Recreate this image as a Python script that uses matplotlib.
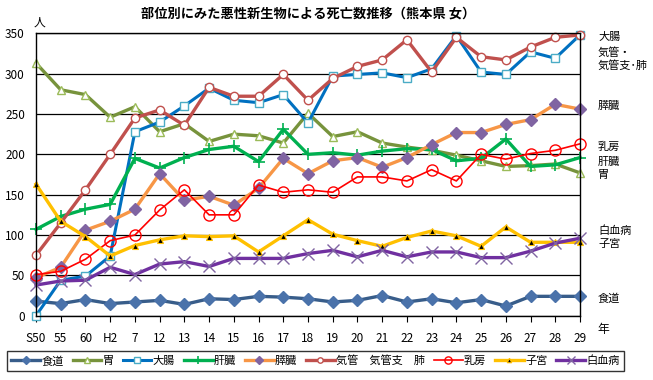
import matplotlib
matplotlib.use("Agg")
import matplotlib.pyplot as plt

plt.rcParams['font.family'] = ['Noto Sans CJK JP', 'DejaVu Sans']

categories = ['S50', '55', '60', 'H2', '7', '12', '13', '14', '15', '16', '17', '18',
              '19', '20', '21', '22', '23', '24', '25', '26', '27', '28', '29']

shokudo = [18, 15, 20, 15, 17, 19, 14, 21, 20, 24, 23, 21, 17, 19, 25, 17, 21, 16, 20, 12, 24, 24, 24]
i_stomach = [313, 280, 274, 246, 259, 228, 238, 216, 225, 223, 214, 251, 222, 228, 214, 209, 205, 199, 192, 185, 186, 188, 177]
daicho = [0, 44, 49, 74, 228, 240, 260, 282, 267, 264, 274, 239, 297, 299, 301, 295, 306, 347, 302, 299, 327, 319, 348]
kanzo = [107, 123, 132, 138, 195, 183, 196, 206, 210, 191, 231, 200, 202, 199, 204, 207, 206, 192, 195, 219, 185, 187, 196]
suizo = [47, 60, 106, 117, 132, 176, 143, 148, 137, 158, 195, 176, 192, 196, 184, 196, 212, 227, 227, 237, 243, 262, 256]
kikan = [75, 115, 156, 200, 245, 255, 236, 283, 272, 272, 299, 267, 294, 309, 317, 342, 302, 345, 321, 317, 333, 345, 348]
nyubo = [51, 55, 70, 93, 100, 131, 156, 125, 125, 162, 153, 156, 153, 172, 172, 167, 181, 167, 200, 194, 201, 205, 213]
shikyu = [163, 117, 98, 74, 87, 94, 99, 98, 99, 79, 99, 119, 101, 93, 86, 97, 105, 99, 86, 110, 91, 91, 91]
hakketsu = [38, 43, 44, 60, 51, 64, 67, 61, 71, 71, 71, 77, 81, 73, 81, 73, 79, 79, 72, 72, 80, 90, 96]

series_names = ['食道', '胃', '大腸', '肝臓', '膵臓', '気管　気管支　肺', '乳房', '子宮', '白血病']
series_values = [shokudo, i_stomach, daicho, kanzo, suizo, kikan, nyubo, shikyu, hakketsu]

styles = [
    dict(color='#385D8A', lw=2.4, marker='D', ms=6, mfc='#4A72AA', mec='#4A72AA'),
    dict(color='#77933C', lw=2.4, marker='^', ms=6, mfc='white', mec='#9BBB59', mew=1.0),
    dict(color='#0070C0', lw=2.2, marker='s', ms=6, mfc='white', mec='#4BACC6', mew=1.0),
    dict(color='#00B050', lw=2.4, marker='+', ms=9, mfc='#00B050', mec='#00B050', mew=1.2),
    dict(color='#F79646', lw=2.4, marker='D', ms=6.5, mfc='#8064A2', mec='#8064A2'),
    dict(color='#C0504D', lw=2.4, marker='o', ms=6, mfc='white', mec='#C0504D', mew=1.0),
    dict(color='#FF0000', lw=1.2, marker='o', ms=8, mfc='none', mec='#FF0000', mew=1.0),
    dict(color='#FFC000', lw=2.4, marker='^', ms=5, mfc='black', mec='#FFC000', mew=0.8),
    dict(color='#7030A0', lw=2.4, marker='x', ms=8, mfc='#8064A2', mec='#8064A2', mew=1.0),
]

W, H = 653, 380
fig = plt.figure(figsize=(W / 100, H / 100), dpi=100)
ax = fig.add_axes([36 / W, 1 - 315.7 / H, (580 - 36) / W, (315.7 - 33.3) / H])

x = list(range(len(categories)))
for name, vals, st in zip(series_names, series_values, styles):
    ax.plot(x, vals, label=name, clip_on=False, **st)

ax.set_xlim(0, len(categories) - 1)
ax.set_ylim(0, 350)
ax.set_yticks(range(0, 351, 50))
ax.set_xticks(x)
ax.set_xticklabels(categories)
ax.yaxis.grid(True, color='black', lw=0.9)
ax.set_axisbelow(True)
for s in ax.spines.values():
    s.set_color('black')
    s.set_linewidth(1.0)
ax.tick_params(axis='y', length=0, pad=8, labelsize=8.5)
ax.tick_params(axis='x', length=4, width=0.8, direction='out', pad=8, labelsize=8.5)

fig.text(308 / W, 1 - 14 / H, '部位別にみた悪性新生物による死亡数推移（熊本県 女）',
         ha='center', va='center', fontsize=9.5, fontweight='bold')
fig.text(39 / W, 1 - 22 / H, '人', ha='center', va='center', fontsize=8.5)
fig.text(603 / W, 1 - 329 / H, '年', ha='center', va='center', fontsize=8.5)

right_labels = [('大腸', 36.7), ('気管・', 52.3), ('気管支･肺', 65.5), ('膵臓', 106),
                ('乳房', 146.7), ('肝臓', 161.7), ('胃', 175), ('白血病', 231),
                ('子宮', 244.3), ('食道', 298.3)]
for txt, yy in right_labels:
    fig.text(598 / W, 1 - yy / H, txt, ha='left', va='center', fontsize=8)

leg = fig.legend(loc='center', bbox_to_anchor=(315.5 / W, 1 - 361 / H), ncol=9,
                 fontsize=8, frameon=True, fancybox=False, edgecolor='black',
                 handlelength=2.6, handletextpad=0.1, columnspacing=0.8,
                 borderpad=0.4, markerscale=0.65)
leg.get_frame().set_linewidth(1.0)

fig.savefig('out.png', dpi=100)
